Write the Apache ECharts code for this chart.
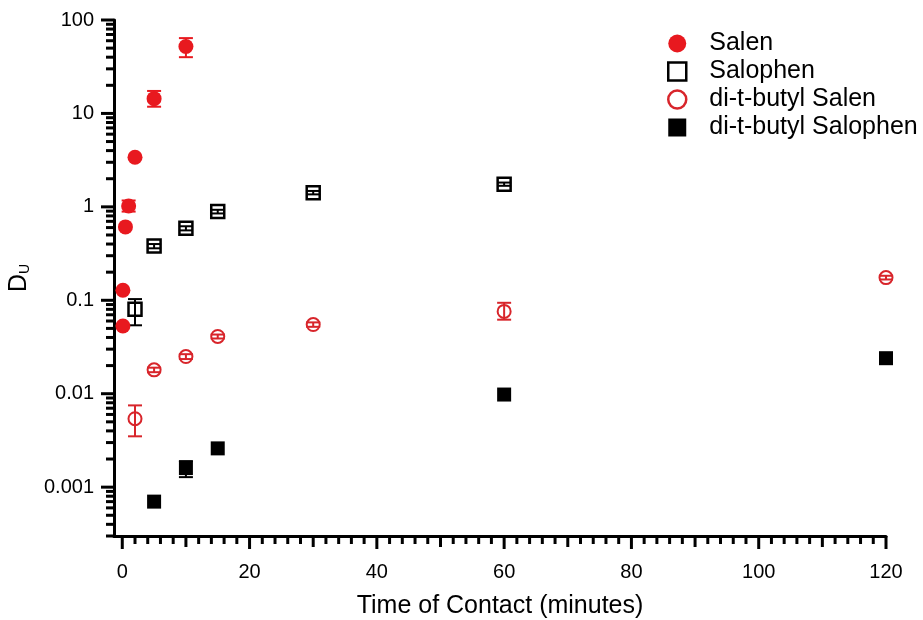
<!DOCTYPE html>
<html><head><meta charset="utf-8">
<script src="https://cdn.jsdelivr.net/npm/echarts@6/dist/echarts.min.js"></script>
<style>html,body{margin:0;padding:0;background:#fff}#c{width:923px;height:620px}</style>
</head><body><div id="c"></div>
<script>
// ---- data ----
const seriesNames = ['Salen', 'Salophen', 'di-t-butyl Salen', 'di-t-butyl Salophen'];

const salenX    = [0.1, 0.1, 0.5, 1, 2, 5, 10];
const salenY    = [0.128, 0.053, 0.61, 1.02, 3.4, 14.4, 52];
const salenLo   = [null, null, null, 0.89, null, 11.8, 40];
const salenHi   = [null, null, null, 1.17, null, 17.4, 64];

const salophenX  = [2, 5, 10, 15, 30, 60];
const salophenY  = [0.08, 0.38, 0.59, 0.89, 1.42, 1.75];
const salophenLo = [0.054, 0.36, 0.56, 0.85, 1.36, 1.68];
const salophenHi = [0.103, 0.40, 0.62, 0.93, 1.48, 1.82];

const dtbSalenX  = [2, 5, 10, 15, 30, 60, 120];
const dtbSalenY  = [0.0054, 0.018, 0.025, 0.041, 0.055, 0.076, 0.175];
const dtbSalenLo = [0.0035, 0.017, 0.0235, 0.039, 0.052, 0.062, 0.167];
const dtbSalenHi = [0.0075, 0.019, 0.0265, 0.043, 0.058, 0.094, 0.183];

const dtbSalophenX  = [5, 10, 15, 60, 120];
const dtbSalophenY  = [0.0007, 0.0016, 0.0026, 0.0098, 0.024];
const dtbSalophenLo = [null, 0.00128, null, null, null];
const dtbSalophenHi = [null, 0.0019, null, null, null];

const xMin = -1.3, xMax = 120;
const yMin = 0.0003, yMax = 100;
const xMajorTicks = [0, 20, 40, 60, 80, 100, 120];
const xMediumTicks = [10, 30, 50, 70, 90, 110];
const xMinorTicks = [2,4,6,8,12,14,16,18,22,24,26,28,32,34,36,38,42,44,46,48,52,54,56,58,62,64,66,68,72,74,76,78,82,84,86,88,92,94,96,98,102,104,106,108,112,114,116,118];
const yMajorTicks = [0.001, 0.01, 0.1, 1, 10, 100];
const yMinorTicks = [0.0003,0.0004,0.0005,0.0006,0.0007,0.0008,0.0009,
  0.002,0.003,0.004,0.005,0.006,0.007,0.008,0.009,
  0.02,0.03,0.04,0.05,0.06,0.07,0.08,0.09,
  0.2,0.3,0.4,0.5,0.6,0.7,0.8,0.9,
  2,3,4,5,6,7,8,9, 20,30,40,50,60,70,80,90];

// ---- build ----
const RED = '#e8191f', RED2 = '#d8252b', BLK = '#000';
const FONT = 'Liberation Sans, Arial, sans-serif';

function pts(xs, ys) { return xs.map((x, i) => [x, ys[i]]); }
function errs(xs, lo, hi) {
  const out = [];
  xs.forEach((x, i) => { if (lo[i] != null && hi[i] != null) out.push([x, lo[i], hi[i]]); });
  return out;
}
function errSeries(data, color) {
  return {
    type: 'custom', coordinateSystem: 'cartesian2d', z: 2, silent: true,
    encode: { x: 0, y: [1, 2] },
    data: data,
    renderItem: function (params, api) {
      const x = api.value(0);
      const pLo = api.coord([x, api.value(1)]);
      const pHi = api.coord([x, api.value(2)]);
      const w = 7;
      const st = { stroke: color, lineWidth: 2 };
      return { type: 'group', children: [
        { type: 'line', shape: { x1: pLo[0], y1: pLo[1], x2: pHi[0], y2: pHi[1] }, style: st },
        { type: 'line', shape: { x1: pLo[0] - w, y1: pLo[1], x2: pLo[0] + w, y2: pLo[1] }, style: st },
        { type: 'line', shape: { x1: pHi[0] - w, y1: pHi[1], x2: pHi[0] + w, y2: pHi[1] }, style: st }
      ]};
    }
  };
}

// tick marks: [x, y, direction(0=y axis,1=x axis), kind(0 major,1 medium,2 minor)]
const tickData = [];
yMajorTicks.forEach(v => tickData.push([xMin, v, 0, 0]));
yMinorTicks.forEach(v => tickData.push([xMin, v, 0, 2]));
xMajorTicks.forEach(v => tickData.push([v, yMin, 1, 0]));
xMediumTicks.forEach(v => tickData.push([v, yMin, 1, 1]));
xMinorTicks.forEach(v => tickData.push([v, yMin, 1, 2]));
const tickLen = [13, 11, 8];

const chart = echarts.init(document.getElementById('c'));
chart.setOption({
  animation: false,
  backgroundColor: '#fff',
  textStyle: { fontFamily: FONT },
  grid: { left: 114, right: 37, top: 20, bottom: 84, outerBoundsMode: 'none' },
  legend: {
    orient: 'vertical', left: 667, top: 31, padding: 0,
    itemWidth: 18, itemHeight: 18, itemGap: 3,
    textStyle: { fontSize: 25, color: '#000', fontFamily: FONT, padding: [0, 0, 0, 18] },
    selectedMode: false,
    data: [
      { name: 'Salen', icon: 'circle', itemStyle: { color: RED, borderWidth: 0 } },
      { name: 'Salophen', icon: 'rect', itemStyle: { color: '#fff', borderColor: BLK, borderWidth: 2.5 } },
      { name: 'di-t-butyl Salen', icon: 'circle', itemStyle: { color: '#fff', borderColor: RED2, borderWidth: 2.5 } },
      { name: 'di-t-butyl Salophen', icon: 'rect', itemStyle: { color: BLK, borderWidth: 0 } }
    ]
  },
  xAxis: {
    type: 'value', min: xMin, max: xMax,
    name: 'Time of Contact (minutes)', nameLocation: 'middle', nameGap: 58,
    nameTextStyle: { fontSize: 25, color: '#000', fontFamily: FONT },
    axisLine: { show: true, onZero: false, lineStyle: { color: '#000', width: 3 } },
    axisTick: { show: false },
    axisLabel: { showMinLabel: false, fontSize: 20, color: '#000', margin: 26, fontFamily: FONT },
    splitLine: { show: false }
  },
  yAxis: {
    type: 'log', logBase: 10, min: yMin, max: yMax,
    name: '{d|D}{u|U}', nameLocation: 'middle', nameGap: 82, nameRotate: 90,
    nameTextStyle: { color: '#000', fontFamily: FONT,
      rich: { d: { fontSize: 25, fontFamily: FONT, color: '#000', verticalAlign: 'bottom' },
              u: { fontSize: 14, fontFamily: FONT, color: '#000', verticalAlign: 'bottom' } } },
    axisLine: { show: true, onZero: false, lineStyle: { color: '#000', width: 3 } },
    axisTick: { show: false },
    axisLabel: { showMinLabel: false, fontSize: 20, color: '#000', margin: 20, fontFamily: FONT },
    splitLine: { show: false }, minorTick: { show: false }, minorSplitLine: { show: false }
  },
  series: [
    {
      type: 'custom', coordinateSystem: 'cartesian2d', z: 1, silent: true, clip: false,
      encode: { x: 0, y: 1 }, data: tickData,
      renderItem: function (params, api) {
        const p = api.coord([api.value(0), api.value(1)]);
        const len = tickLen[api.value(3)];
        const shape = api.value(2) === 0
          ? { x1: p[0] - len, y1: p[1], x2: p[0], y2: p[1] }
          : { x1: p[0], y1: p[1], x2: p[0], y2: p[1] + len };
        return { type: 'line', shape: shape, style: { stroke: '#000', lineWidth: 3 } };
      }
    },
    errSeries(errs(salenX, salenLo, salenHi), RED),
    errSeries(errs(salophenX, salophenLo, salophenHi), BLK),
    errSeries(errs(dtbSalenX, dtbSalenLo, dtbSalenHi), RED2),
    errSeries(errs(dtbSalophenX, dtbSalophenLo, dtbSalophenHi), BLK),
    { name: 'Salen', type: 'scatter', z: 3, symbol: 'circle', symbolSize: 15,
      itemStyle: { color: RED, opacity: 1 }, data: pts(salenX, salenY) },
    { name: 'Salophen', type: 'scatter', z: 3, symbol: 'rect', symbolSize: 13,
      itemStyle: { color: 'rgba(0,0,0,0)', borderColor: BLK, borderWidth: 2.5, opacity: 1 }, data: pts(salophenX, salophenY) },
    { name: 'di-t-butyl Salen', type: 'scatter', z: 3, symbol: 'circle', symbolSize: 13,
      itemStyle: { color: 'rgba(0,0,0,0)', borderColor: RED2, borderWidth: 2, opacity: 1 }, data: pts(dtbSalenX, dtbSalenY) },
    { name: 'di-t-butyl Salophen', type: 'scatter', z: 3, symbol: 'rect', symbolSize: 14,
      itemStyle: { color: BLK, opacity: 1 }, data: pts(dtbSalophenX, dtbSalophenY) }
  ]
});
</script>
</body></html>
